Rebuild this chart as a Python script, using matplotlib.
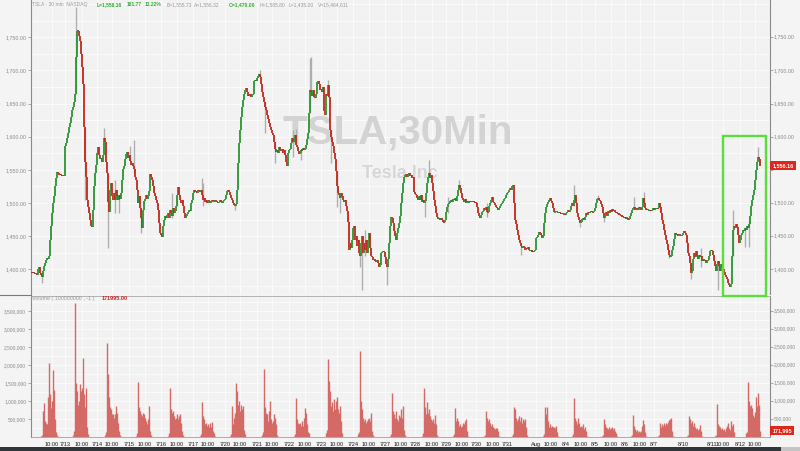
import matplotlib
matplotlib.use('Agg')
import matplotlib.pyplot as plt
import numpy as np
from matplotlib.patches import Rectangle
from matplotlib.lines import Line2D
from matplotlib.ticker import MultipleLocator

# ---------------- data ----------------
days = ['7/10', '7/13', '7/14', '7/15', '7/16', '7/17', '7/20', '7/21', '7/22', '7/23', '7/24',
        '7/27', '7/28', '7/29', '7/30', '7/31', '8/3', '8/4', '8/5', '8/6', '8/7', '8/10', '8/11', '8/12']
date_labels = ['', '7/13', '7/14', '7/15', '7/16', '7/17', '7/20', '7/21', '7/22', '7/23', '7/24',
               '7/27', '7/28', '7/29', '7/30', '7/31', 'Aug', '8/4', '8/5', '8/6', '8/7', '8/10', '8/11', '8/12']
# index (within the day) of the bar labelled 10:00; None = no label shown
ten_offset = [20, 17, 15, 16, 16, 15, 15, 15, 16, 16, 16, 16, 17, 16, 17, None, 15, 15, 16, 15, None, None, 11, 15]
# index (within the day) of the 9:30 opening bar
open_offset = [11, 10, 10, 9, 9, 9, 7, 7, 7, 7, 7, 7, 9, 9, 10, 7, 9, 8, 9, 8, 6, 6, 5, 8]

# 30-minute closes, one list per day
c_0710 = [1396, 1395, 1395, 1394, 1393, 1391, 1400, 1404, 1395, 1392, 1389, 1398, 1405, 1410, 1414, 1417, 1416,
          1420, 1445, 1465, 1485, 1500, 1510, 1525, 1538, 1547, 1545, 1543, 1544, 1542, 1541, 1542, 1541]
c_0713 = [1586, 1590, 1598, 1606, 1614, 1620, 1630, 1640, 1645, 1652, 1665, 1720, 1760, 1760, 1752, 1744,
          1725, 1705, 1680, 1614, 1562, 1540, 1505, 1494, 1485, 1475, 1466, 1464, 1490, 1525, 1545, 1558]
c_0714 = [1575, 1584, 1572, 1566, 1568, 1562, 1572, 1598, 1592, 1562, 1546, 1502, 1486, 1520, 1530, 1510,
          1505, 1515, 1505, 1520, 1510, 1505, 1512, 1506, 1515, 1535, 1552, 1556, 1566, 1574, 1577, 1568]
c_0715 = [1572, 1564, 1558, 1560, 1556, 1552, 1540, 1535, 1520, 1500, 1510, 1492, 1478, 1462, 1490, 1503,
          1506, 1512, 1506, 1510, 1518, 1544, 1540, 1535, 1526, 1515, 1510, 1505, 1500, 1490, 1470, 1455]
c_0716 = [1452, 1449, 1465, 1475, 1480, 1478, 1482, 1485, 1478, 1490, 1485, 1480, 1492, 1485, 1488, 1495,
          1512, 1524, 1512, 1505, 1500, 1505, 1495, 1485, 1478, 1480, 1484, 1486, 1490, 1488, 1500, 1504]
c_0717 = [1515, 1520, 1516, 1518, 1515, 1520, 1518, 1516, 1520, 1512, 1505, 1508, 1502, 1505, 1500, 1505,
          1503, 1500, 1502, 1505, 1503, 1502, 1504, 1503, 1502, 1501, 1502, 1504, 1502, 1500, 1503, 1505]
c_0720 = [1506, 1512, 1518, 1520, 1516, 1512, 1508, 1504, 1500, 1497, 1495, 1498, 1520, 1560, 1590, 1610,
          1630, 1645, 1655, 1665, 1670, 1673, 1668, 1662, 1662, 1664, 1660, 1663, 1665, 1684, 1686, 1684]
c_0721 = [1688, 1692, 1694, 1690, 1680, 1667, 1660, 1652, 1645, 1640, 1632, 1626, 1620, 1615, 1610, 1606,
          1602, 1592, 1582, 1577, 1580, 1575, 1585, 1580, 1578, 1582, 1576, 1580, 1572, 1562, 1556, 1575]
c_0722 = [1580, 1581, 1590, 1598, 1592, 1596, 1603, 1588, 1584, 1578, 1574, 1575, 1580, 1580, 1583, 1580,
          1582, 1588, 1596, 1606, 1635, 1670, 1668, 1662, 1670, 1660, 1658, 1665, 1682, 1684, 1680, 1670]
c_0723 = [1672, 1668, 1675, 1638, 1632, 1665, 1662, 1678, 1660, 1610, 1600, 1592, 1586, 1576, 1566, 1548,
          1526, 1515, 1512, 1508, 1515, 1510, 1505, 1502, 1505, 1495, 1488, 1471, 1430, 1440, 1432, 1445]
c_0724 = [1462, 1466, 1445, 1450, 1436, 1444, 1425, 1420, 1440, 1450, 1425, 1440, 1430, 1445, 1425, 1440,
          1455, 1432, 1420, 1418, 1414, 1416, 1413, 1412, 1414, 1410, 1404, 1406, 1425, 1426, 1428, 1426]
c_0727 = [1418, 1408, 1404, 1415, 1440, 1465, 1479, 1478, 1470, 1458, 1450, 1445, 1455, 1462, 1470, 1480,
          1500, 1515, 1530, 1539, 1542, 1544, 1540, 1543, 1545, 1541, 1543, 1538, 1540, 1516]
c_0728 = [1514, 1512, 1508, 1505, 1510, 1505, 1512, 1502, 1505, 1500, 1503, 1515, 1530, 1540, 1545, 1538,
          1542, 1530, 1518, 1505, 1495, 1485, 1479, 1476, 1478, 1475, 1477, 1474, 1472, 1471, 1474]
c_0729 = [1487, 1494, 1498, 1500, 1503, 1505, 1502, 1506, 1504, 1507, 1503, 1510, 1520, 1527, 1522, 1515,
          1507, 1505, 1502, 1506, 1500, 1503, 1501, 1502, 1502, 1502, 1503, 1502, 1502, 1501]
c_0730 = [1500, 1494, 1485, 1480, 1478, 1482, 1486, 1488, 1492, 1490, 1494, 1487, 1486, 1495, 1500, 1505,
          1509, 1502, 1500, 1497, 1494, 1492, 1490, 1492, 1495, 1498, 1500, 1503, 1506, 1508, 1512]
c_0731 = [1515, 1517, 1519, 1522, 1520, 1525, 1527, 1500, 1475, 1468, 1460, 1452, 1445, 1440, 1435, 1432,
          1436, 1434, 1430, 1433, 1431, 1434, 1430, 1428, 1430, 1427, 1426, 1428, 1430]
c_0803 = [1448, 1449, 1452, 1456, 1455, 1452, 1447, 1450, 1470, 1485, 1494, 1498, 1502, 1505, 1507, 1503,
          1500, 1492, 1486, 1487, 1488, 1487, 1486, 1487, 1485, 1484, 1485, 1483, 1484, 1482]
c_0804 = [1485, 1487, 1489, 1486, 1490, 1495, 1500, 1496, 1505, 1512, 1500, 1485, 1479, 1474, 1470, 1472,
          1476, 1478, 1474, 1479, 1485, 1482, 1487, 1486, 1487, 1488, 1487, 1486, 1488]
c_0805 = [1492, 1500, 1506, 1508, 1505, 1503, 1498, 1494, 1485, 1478, 1482, 1486, 1480, 1488, 1485, 1490,
          1487, 1491, 1488, 1490, 1487, 1486, 1485, 1484, 1483, 1482, 1481, 1480, 1479, 1478]
c_0806 = [1478, 1477, 1478, 1475, 1476, 1480, 1485, 1489, 1492, 1494, 1490, 1493, 1492, 1489, 1494, 1492,
          1490, 1494, 1508, 1500, 1492, 1490, 1491, 1489, 1490, 1489, 1488, 1490, 1492]
c_0807 = [1490, 1492, 1491, 1493, 1492, 1500, 1494, 1485, 1475, 1468, 1460, 1452, 1445, 1438, 1430, 1422,
          1418, 1420, 1430, 1436, 1446, 1455, 1452, 1454, 1450, 1452, 1452, 1451, 1452]
c_0810 = [1455, 1458, 1455, 1452, 1440, 1425, 1420, 1410, 1395, 1398, 1415, 1425, 1418, 1428, 1420, 1415,
          1422, 1418, 1420, 1412, 1415, 1412, 1414, 1410, 1412, 1414, 1420, 1428, 1430]
c_0811 = [1428, 1422, 1412, 1405, 1398, 1408, 1412, 1405, 1398, 1408, 1404, 1400, 1396, 1392, 1388, 1385,
          1380, 1376, 1374, 1378, 1420, 1460, 1466, 1462, 1468, 1464, 1452, 1440]
c_0812 = [1445, 1452, 1455, 1460, 1458, 1462, 1460, 1466, 1462, 1468, 1480, 1495, 1505, 1512, 1520, 1535,
          1550, 1562, 1570, 1566, 1556.16]
day_closes = [c_0710, c_0713, c_0714, c_0715, c_0716, c_0717, c_0720, c_0721, c_0722, c_0723, c_0724,
              c_0727, c_0728, c_0729, c_0730, c_0731, c_0803, c_0804, c_0805, c_0806, c_0807, c_0810,
              c_0811, c_0812]

# visible wicks: (day, bar in day, low, high)
wicks = [(0, 10, 1380, 1395), (1, 11, 1665, 1795), (1, 20, 1505, 1614), (2, 7, 1598, 1613),
         (2, 11, 1432, 1546), (2, 18, 1485, 1535), (2, 22, 1485, 1512), (3, 1, 1564, 1586),
         (3, 5, 1545, 1595), (3, 12, 1455, 1492), (4, 11, 1478, 1515), (4, 16, 1495, 1505),
         (5, 9, 1512, 1538), (5, 10, 1495, 1530), (6, 10, 1490, 1500), (7, 3, 1690, 1700),
         (7, 8, 1605, 1652), (7, 18, 1560, 1592), (8, 4, 1570, 1610), (8, 7, 1588, 1612),
         (8, 12, 1565, 1580), (8, 21, 1635, 1718), (8, 22, 1668, 1720), (9, 7, 1660, 1685),
         (9, 10, 1560, 1610), (9, 16, 1494, 1548), (9, 19, 1485, 1515), (10, 7, 1404, 1425),
         (10, 9, 1369, 1450), (10, 12, 1420, 1460), (11, 2, 1377, 1408), (12, 10, 1479, 1503),
         (12, 14, 1540, 1565), (13, 2, 1485, 1509), (13, 13, 1520, 1535), (14, 11, 1479, 1500),
         (15, 14, 1422, 1440), (17, 8, 1496, 1527), (17, 14, 1464, 1474), (18, 3, 1505, 1512),
         (18, 9, 1471, 1485), (19, 9, 1492, 1509), (19, 19, 1500, 1517), (20, 15, 1417, 1430),
         (21, 8, 1385, 1410), (21, 18, 1404, 1432), (22, 6, 1369, 1412), (22, 21, 1420, 1489),
         (23, 5, 1434, 1462), (23, 9, 1434, 1475), (23, 18, 1565, 1584)]

# volume in millions, each list starts two bars before the 9:30 bar
v_0710 = [0.03, 0.06, 0.72, 0.95, 0.45, 0.38, 0.35, 1.1, 2.05, 1.2, 0.8, 1.0, 1.85, 1.3, 0.5, 0.15, 0.05]
v_0713 = [0.05, 0.17, 3.72, 1.5, 1.28, 0.9, 1.0, 1.46, 1.28, 1.37, 2.2, 1.19, 0.82, 1.37, 0.27, 0.08]
v_0714 = [0.05, 0.15, 2.6, 1.74, 1.1, 0.82, 0.77, 0.64, 0.65, 0.54, 0.64, 0.87, 0.68, 0.4, 0.17, 0.05]
v_0715 = [0.04, 0.12, 1.54, 0.82, 0.73, 0.64, 0.59, 0.68, 0.64, 0.54, 0.45, 0.36, 0.5, 0.87, 0.17, 0.05]
v_0716 = [0.04, 0.1, 1.35, 0.77, 0.68, 0.73, 0.59, 0.5, 0.54, 0.64, 0.5, 0.59, 0.64, 0.4, 0.17, 0.05]
v_0717 = [0.03, 0.08, 0.98, 0.59, 0.5, 0.36, 0.4, 0.31, 0.36, 0.27, 0.4, 0.27, 0.43, 0.17, 0.1, 0.04]
v_0720 = [0.03, 0.08, 0.87, 0.36, 0.54, 0.68, 1.5, 1.28, 0.9, 1.0, 0.73, 0.9, 0.77, 0.87, 0.2, 0.08]
v_0721 = [0.06, 0.15, 1.9, 0.82, 0.68, 0.64, 0.45, 0.73, 1.0, 0.5, 0.4, 0.45, 0.64, 0.54, 0.36, 0.06]
v_0722 = [0.03, 0.08, 1.08, 0.5, 0.4, 0.36, 0.4, 0.31, 0.45, 0.31, 0.54, 0.8, 0.68, 0.36, 0.15, 0.1]
v_0723 = [0.1, 0.2, 2.18, 1.55, 1.28, 0.87, 0.96, 0.73, 1.05, 0.77, 1.0, 1.1, 0.77, 0.68, 0.87, 0.45, 0.1]
v_0724 = [0.08, 0.15, 2.4, 1.0, 0.77, 0.54, 0.45, 0.5, 0.4, 0.45, 0.5, 0.54, 0.45, 0.68, 0.17, 0.05]
v_0727 = [0.03, 0.08, 1.23, 0.73, 0.64, 0.54, 0.73, 0.5, 0.45, 0.6, 0.55, 0.77, 0.54, 0.87, 0.2, 0.05]
v_0728 = [0.04, 0.1, 1.35, 0.82, 0.64, 0.96, 0.68, 0.77, 0.59, 0.5, 0.45, 0.5, 0.4, 0.62, 0.36, 0.05]
v_0729 = [0.03, 0.08, 0.8, 0.45, 0.54, 0.45, 0.31, 0.36, 0.27, 0.31, 0.4, 0.36, 0.45, 0.5, 0.17, 0.04]
v_0730 = [0.03, 0.06, 0.73, 0.54, 0.45, 0.5, 0.4, 0.31, 0.36, 0.27, 0.25, 0.22, 0.24, 0.25, 0.17, 0.04]
v_0731 = [0.03, 0.07, 0.82, 0.77, 0.54, 0.45, 0.5, 0.59, 0.45, 0.56, 0.4, 0.5, 0.45, 0.5, 0.27, 0.05]
v_0803 = [0.03, 0.08, 0.84, 0.64, 0.82, 0.45, 0.27, 0.36, 0.27, 0.31, 0.27, 0.29, 0.25, 0.31, 0.15, 0.04]
v_0804 = [0.03, 0.07, 1.08, 0.54, 0.45, 0.36, 0.54, 0.4, 0.27, 0.31, 0.27, 0.36, 0.22, 0.27, 0.17, 0.04]
v_0805 = [0.02, 0.05, 0.5, 0.36, 0.27, 0.25, 0.22, 0.27, 0.22, 0.24, 0.27, 0.21, 0.25, 0.17, 0.1, 0.03]
v_0806 = [0.02, 0.05, 0.6, 0.31, 0.22, 0.17, 0.19, 0.13, 0.17, 0.13, 0.17, 0.31, 0.47, 0.36, 0.13, 0.03]
v_0807 = [0.02, 0.05, 0.4, 0.27, 0.36, 0.31, 0.38, 0.34, 0.4, 0.36, 0.43, 0.47, 0.5, 0.54, 0.17, 0.03]
v_0810 = [0.02, 0.06, 0.59, 0.5, 0.4, 0.45, 0.31, 0.38, 0.27, 0.22, 0.25, 0.19, 0.22, 0.34, 0.17, 0.04]
v_0811 = [0.02, 0.05, 0.93, 0.36, 0.31, 0.27, 0.22, 0.25, 0.19, 0.22, 0.17, 0.25, 0.31, 0.38, 0.25,
          0.2, 0.45, 0.3, 0.35, 0.15]
v_0812 = [0.1, 0.15, 1.52, 1.0, 0.85, 0.9, 0.8, 0.6, 0.55, 0.7, 1.1, 0.85, 1.23, 0.9, 0.171995]
day_volumes = [v_0710, v_0713, v_0714, v_0715, v_0716, v_0717, v_0720, v_0721, v_0722, v_0723, v_0724,
               v_0727, v_0728, v_0729, v_0730, v_0731, v_0803, v_0804, v_0805, v_0806, v_0807, v_0810,
               v_0811, v_0812]

price_ticks = [1400, 1450, 1500, 1550, 1600, 1650, 1700, 1750]
vol_ticks = [500000, 1000000, 1500000, 2000000, 2500000, 3000000, 3500000]

header = [('TSLA - 30 min  NASDAQ', '#9a9a9a', 'normal', 32),
          ('L=1,556.16', '#2fae2f', 'bold', 97), ('181.77', '#2fae2f', 'bold', 127),
          ('13.22%', '#2fae2f', 'bold', 145), ('B=1,555.73', '#9a9a9a', 'normal', 167),
          ('A=1,556.32', '#9a9a9a', 'normal', 194), ('O=1,470.00', '#2fae2f', 'bold', 229),
          ('H=1,585.80', '#9a9a9a', 'normal', 260), ('L=1,435.00', '#9a9a9a', 'normal', 289),
          ('V=15,464,611', '#9a9a9a', 'normal', 318)]

# ---------------- derived ----------------
day_bars = [len(c) for c in day_closes]
day_start = np.concatenate([[0], np.cumsum(day_bars)[:-1]]).astype(int)
closes = np.concatenate([np.asarray(c, float) for c in day_closes])
n = len(closes)
idx = np.arange(n)
opens = np.r_[closes[0], closes[:-1]]

vol = np.zeros(n)
for d, v in enumerate(day_volumes):
    s = day_start[d] + open_offset[d] - 2
    vol[s:s + len(v)] = np.asarray(v) * 1e6

# ---------------- figure ----------------
W, H = 800, 451
SANS = ['Liberation Sans', 'DejaVu Sans']
BG = '#f2f2f2'
fig = plt.figure(figsize=(W / 100, H / 100), dpi=100)
fig.patch.set_facecolor('#f4f4f4')


def fx(px):
    return px / W


def fy(py):
    return 1 - py / H


ax = fig.add_axes([fx(31), fy(294), fx(770) - fx(31), fy(0) - fy(294)])
axv = fig.add_axes([fx(31), fy(437), fx(770) - fx(31), fy(296) - fy(437)], sharex=ax)

for a in (ax, axv):
    a.set_facecolor(BG)
    for s in ('top', 'bottom'):
        a.spines[s].set_visible(False)
    for s in ('left', 'right'):
        a.spines[s].set_color('#8a8a8a')
        a.spines[s].set_linewidth(0.8)
axv.spines['bottom'].set_visible(True)
axv.spines['bottom'].set_color('#a0a0a0')
axv.spines['bottom'].set_linewidth(0.6)
axv.spines['top'].set_visible(True)
axv.spines['top'].set_color('#a8a8a8')
axv.spines['top'].set_linewidth(0.6)

ax.set_xlim(-1, 738)
ax.set_ylim(1363, 1806)
axv.set_ylim(0, 3.917e6)

# x ticks
xt, xl = [], []
for d in range(len(days)):
    if date_labels[d]:
        xt.append(day_start[d]); xl.append(date_labels[d])
    if ten_offset[d] is not None:
        xt.append(day_start[d] + ten_offset[d]); xl.append('10:00')
axv.set_xticks(xt)
axv.set_xticklabels(xl, fontsize=4.1, color='#1a1a1a', family=SANS)
axv.tick_params(axis='x', length=0, pad=3.5)
ax.tick_params(axis='x', length=0, labelbottom=False)

# grids
ax.yaxis.set_minor_locator(MultipleLocator(25))
ax.grid(which='both', axis='y', color='#fbfbfb', lw=0.7, zorder=0)
ax.grid(which='major', axis='x', color='#fbfbfb', lw=0.7, zorder=0)
axv.yaxis.set_minor_locator(MultipleLocator(250000))
axv.grid(which='both', axis='y', color='#fbfbfb', lw=0.7, zorder=0)
axv.grid(which='major', axis='x', color='#fbfbfb', lw=0.7, zorder=0)
ax.set_axisbelow(True)
axv.set_axisbelow(True)

# y ticks
ax.set_yticks(price_ticks)
ax.set_yticklabels([f'{v:,.2f}' for v in price_ticks], fontsize=3.8, color='#8a8a8a', family=SANS)
ax.tick_params(axis='y', which='major', left=True, right=True, length=2.5, width=0.5,
               color='#8a8a8a', pad=1)
ax.tick_params(axis='y', which='minor', left=False, right=False)
last = closes[-1]
ytr = ax.get_yaxis_transform()
for v in price_ticks:
    if abs(v - last) > 10:
        ax.text(1.005, v, f'{v:,.2f}', transform=ytr, fontsize=3.8, color='#8a8a8a',
                family=SANS, ha='left', va='center', clip_on=False)

axv.set_yticks(vol_ticks)
axv.set_yticklabels([f'{v:,}' for v in vol_ticks], fontsize=3.5, color='#8a8a8a', family=SANS)
axv.tick_params(axis='y', which='major', left=True, right=True, length=2.5, width=0.5,
                color='#8a8a8a', pad=1)
axv.tick_params(axis='y', which='minor', left=False, right=False)
vtr = axv.get_yaxis_transform()
for v in vol_ticks:
    axv.text(1.005, v, f'{v:,}', transform=vtr, fontsize=3.5, color='#8a8a8a',
             family=SANS, ha='left', va='center', clip_on=False)

# watermark
ax.text((398 - 31) / 739, 1 - 133 / 294, 'TSLA,30Min', transform=ax.transAxes, ha='center',
        va='center', fontsize=29, fontweight='bold', color='#d3d3d3', family=SANS, zorder=1)
ax.text((400 - 31) / 739, 1 - 173 / 294, 'Tesla Inc', transform=ax.transAxes, ha='center',
        va='center', fontsize=13, fontweight='bold', color='#d7d7d7', family=SANS, zorder=1)

# candles
wx = [day_start[d] + k for d, k, lo_, hi_ in wicks]
wl = [lo_ for d, k, lo_, hi_ in wicks]
wh = [hi_ for d, k, lo_, hi_ in wicks]
ax.vlines(wx, wl, wh, color='#adadad', lw=0.95, zorder=2)
lo = np.minimum(opens, closes)
hi = np.maximum(opens, closes)
body = hi - lo
hgt = np.maximum(body, 1.6)
bot = lo - (hgt - body) / 2
UP, DOWN, FLAT = '#2a9432', '#c4261b', '#4f5238'
col = [UP if c > o + 0.8 else (DOWN if c < o - 0.8 else FLAT) for o, c in zip(opens, closes)]
ax.vlines(idx, bot, bot + hgt, colors=col, lw=1.3, zorder=3)

# volume
axv.vlines(idx, 0, vol, colors='#d46a66', lw=1.0, zorder=3)

# last price / last volume labels
ax.text(1.003, last, f'{last:,.2f}', transform=ytr, fontsize=3.9, color='white',
        fontweight='bold', family=SANS, ha='left', va='center', clip_on=False, zorder=6,
        bbox=dict(boxstyle='square,pad=0.4', fc='#e0261b', ec='none'))
axv.text(1.003, vol[-1], f'{int(round(vol[-1])):,}', transform=vtr, fontsize=3.9, color='white',
         fontweight='bold', family=SANS, ha='left', va='center', clip_on=False, zorder=6,
         bbox=dict(boxstyle='square,pad=0.4', fc='#e0261b', ec='none'))

# header line
for txt, c, w, px in header:
    fig.text(fx(px), fy(4.5), txt, fontsize=3.6, color=c, fontweight=w, family=SANS,
             ha='left', va='center')
fig.text(fx(32), fy(298.5), 'Volume ( 100000000 , -1 )', fontsize=3.8, color='#9a9a9a',
         family=SANS, ha='left', va='center')
fig.text(fx(102), fy(298.5), f'{vol[-1]:.2f}', fontsize=4.0, color='#cc2222', fontweight='bold',
         family=SANS, ha='left', va='center')

# panel divider on the left strip
fig.add_artist(Line2D([0, fx(31)], [fy(294.5), fy(294.5)], color='#7a7a7a', lw=0.8))

# highlight box
fig.add_artist(Rectangle((fx(722.5), fy(295.5)), fx(765.5) - fx(722.5), fy(135.5) - fy(295.5),
                         fill=False, edgecolor='#5ade3a', lw=1.7, zorder=10))

# bottom bar
fig.add_artist(Rectangle((0, 0), 1, 4.5 / H, color='#30353a', lw=0))
fig.add_artist(Rectangle((fx(781), 0), fx(19), 4.5 / H, color='#c4c4c4', lw=0))

fig.savefig('out.png', dpi=100, facecolor=fig.get_facecolor())
